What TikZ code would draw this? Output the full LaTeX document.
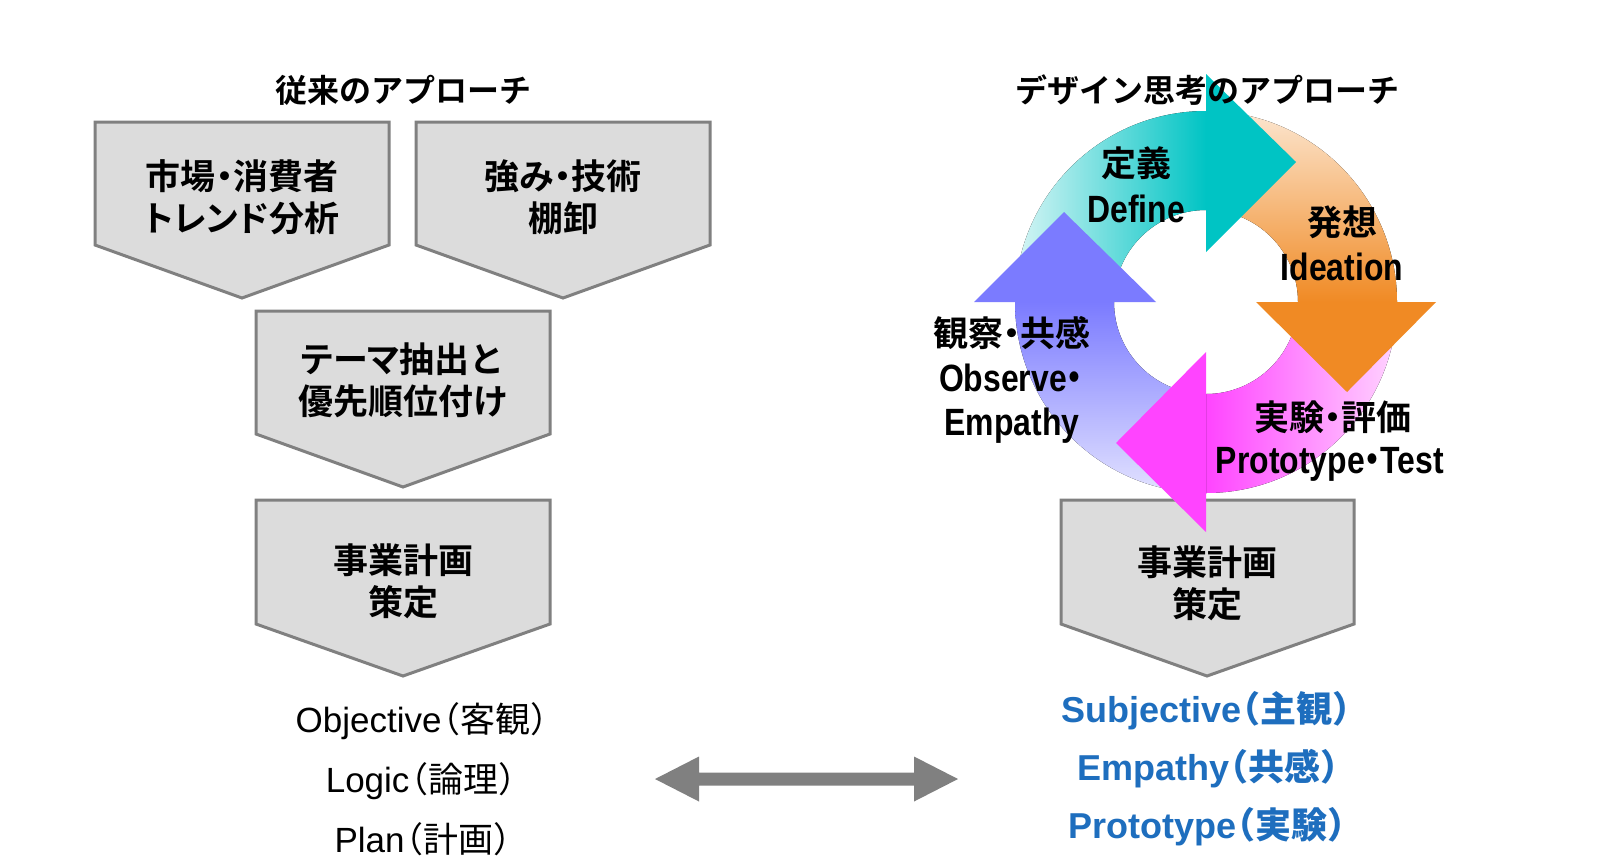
\documentclass[tikz,border=0pt]{standalone}
\usepackage{fontspec}
\usetikzlibrary{calc}
\setmainfont{Liberation Sans}
\newfontfamily\jp{Noto Sans CJK JP}
\newfontfamily\jpb{Noto Sans CJK JP Bold}
\newfontfamily\jpbp{Noto Sans CJK JP Bold}[RawFeature=+palt]
\definecolor{boxfill}{RGB}{220,220,220}
\definecolor{boxline}{RGB}{128,128,128}
\definecolor{subblue}{RGB}{30,110,190}
\definecolor{tealF}{RGB}{0,196,196}
\definecolor{tealL}{RGB}{215,245,245}
\definecolor{orgF}{RGB}{240,138,36}
\definecolor{orgL}{RGB}{252,230,208}
\definecolor{magF}{RGB}{255,68,255}
\definecolor{magL}{RGB}{255,212,255}
\definecolor{bluF}{RGB}{123,123,255}
\definecolor{bluL}{RGB}{226,226,255}
\newcommand\dt{\makebox[0.5em][c]{・}}
\newcommand\lp{\makebox[0.55em][r]{（}}
\newcommand\rp{\makebox[0.5em][l]{）}}
\newcommand\pa[1]{{\jpbp #1}}
\newcommand\cl[1]{\scalebox{0.84}[1]{\fontsize{38}{40}\selectfont\bfseries #1}}
\tikzset{
  pent/.style={fill=boxfill, draw=boxline, line width=3pt, line join=miter},
  boxtext/.style={align=center, inner sep=0pt, font=\fontsize{35}{42}\selectfont\jpb},
  ttl/.style={inner sep=0pt, font=\fontsize{32}{36}\selectfont\jpb},
  objtxt/.style={inner sep=0pt, anchor=base, font=\fontsize{35}{40}\selectfont},
  subtxt/.style={inner sep=0pt, anchor=base, text=subblue, font=\fontsize{36}{40}\selectfont\bfseries},
  cycj/.style={inner sep=0pt, anchor=base, text height=26pt, text depth=3pt, font=\fontsize{35}{40}\selectfont\jpb},
  cycl/.style={inner sep=0pt, anchor=base, text height=26pt, text depth=3pt},
}
\begin{document}
\begin{tikzpicture}[x=1pt,y=-1pt]
\path[use as bounding box, fill=white] (0,0) rectangle (1600,855);

% left pentagons
\draw[pent] (95,122) -- (389,122) -- (389,245) -- (242,298) -- (95,245) -- cycle;
\node[boxtext] (b1) at (242,197) {市場\dt 消費者\\\pa{トレンド}分析};
\draw[pent] (416,122) -- (710,122) -- (710,245) -- (563,298) -- (416,245) -- cycle;
\node[boxtext] (b2) at (563,197) {強み\dt 技術\\棚卸};
\draw[pent] (256,311) -- (550,311) -- (550,434) -- (403,487) -- (256,434) -- cycle;
\node[boxtext] (b3) at (403,380) {\pa{テーマ}抽出と\\優先順位付け};
\draw[pent] (256,500) -- (550,500) -- (550,624) -- (403,676) -- (256,624) -- cycle;
\node[boxtext] (b4) at (403,581) {事業計画\\策定};
% right pentagon
\draw[pent] (1061,500) -- (1354,500) -- (1354,624) -- (1207,676) -- (1061,624) -- cycle;
\node[boxtext] (b5) at (1207,583) {事業計画\\策定};

% cycle
\begin{scope}[shift={(1206,302)}, y=1pt]
  % bodies
  \fill[left color=tealL, right color=tealF]
    (180:191) arc[start angle=180, end angle=90, radius=191] -- (90:92)
    arc[start angle=90, end angle=180, radius=92] -- cycle;
  \fill[top color=orgL, bottom color=orgF]
    (90:191) arc[start angle=90, end angle=0, radius=191] -- (0:92)
    arc[start angle=0, end angle=90, radius=92] -- cycle;
  \fill[right color=magL, left color=magF]
    (0:191) arc[start angle=0, end angle=-90, radius=191] -- (-90:92)
    arc[start angle=-90, end angle=0, radius=92] -- cycle;
  \fill[bottom color=bluL, top color=bluF]
    (-90:191) arc[start angle=-90, end angle=-180, radius=191] -- (-180:92)
    arc[start angle=-180, end angle=-90, radius=92] -- cycle;
  % heads
  \fill[tealF] (0,50) -- (0,228) -- (90,140) -- cycle;
  \begin{scope}[rotate=-90]
    \fill[orgF] (0,50) -- (0,230) -- (90,141) -- cycle;
  \end{scope}
  \begin{scope}[rotate=-180]
    \fill[magF] (0,50) -- (0,230) -- (90,141) -- cycle;
  \end{scope}
  \begin{scope}[rotate=90]
    \fill[bluF] (0,50) -- (0,232) -- (90,142) -- cycle;
  \end{scope}
\end{scope}

% cycle labels
\node[cycj] (c1a) at (1136,176.5) {定義};
\node[cycl] (c1b) at (1136,222) {\cl{Define}};
\node[cycj] (c2a) at (1342,235) {発想};
\node[cycl] (c2b) at (1342,280) {\cl{Ideation}};
\node[cycj] (c3a) at (1012,346) {観察\dt 共感};
\node[cycl] (c3b) at (1011,391) {\cl{Observe{\jpb\dt}}};
\node[cycl] (c3c) at (1012,435) {\cl{Empathy}};
\node[cycj] (c4a) at (1333,430.5) {実験\dt 評価};
\node[cycl] (c4b) at (1330,473) {\cl{Prototype{\jpb\dt}Test}};

% titles
\node[ttl] (t1) at (403,90) {従来のアプローチ};
\node[ttl] (t2) at (1207,90) {デザイン思考のアプローチ};

% bottom texts
\node[objtxt] (o1) at (422,732) {Objective{\jp\lp 客観\rp}};
\node[objtxt] (o2) at (421,792) {Logic{\jp\lp 論理\rp}};
\node[objtxt] (o3) at (423,852) {Plan{\jp\lp 計画\rp}};
\node[subtxt] (s1) at (1206,722) {Subjective{\jpb\lp 主観\rp}};
\node[subtxt] (s2) at (1208,780) {Empathy{\jpb\lp 共感\rp}};
\node[subtxt] (s3) at (1207,838) {Prototype{\jpb\lp 実験\rp}};

% double arrow
\coordinate (dl) at (655,779);
\coordinate (dr) at (958,779);
\fill[boxline] (dl) -- ++(44,-22.5) -- ++(0,16) -- ($(dr)+(-44,-6.5)$) -- ++(0,-16)
  -- (dr) -- ++(-44,22.5) -- ++(0,-16) -- ($(dl)+(44,6.5)$) -- ++(0,16) -- cycle;
\end{tikzpicture}
\end{document}
